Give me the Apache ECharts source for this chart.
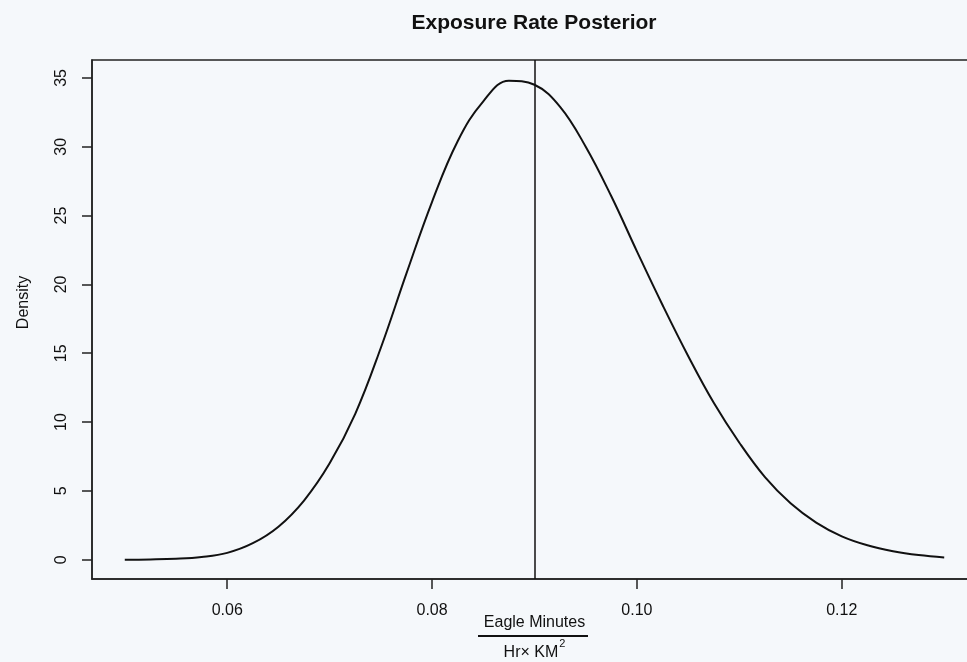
<!DOCTYPE html>
<html>
<head>
<meta charset="utf-8">
<script src="https://cdn.jsdelivr.net/npm/echarts@6/dist/echarts.min.js"></script>
<style>
  html, body { margin: 0; padding: 0; background: #f5f8fb; }
  #chart { width: 967px; height: 662px; }
</style>
</head>
<body>
<div id="chart"></div>
<script>
// exposure rate values (x) and posterior density
var rateVals = [0.0500, 0.0525, 0.0550, 0.0575, 0.0600, 0.0625, 0.0650, 0.0675, 0.0700,
    0.0725, 0.0750, 0.0775, 0.0800, 0.0825, 0.0850, 0.0875, 0.0900, 0.0925, 0.0950,
    0.0975, 0.1000, 0.1025, 0.1050, 0.1075, 0.1100, 0.1125, 0.1150, 0.1175, 0.1200,
    0.1225, 0.1250, 0.1275, 0.1300];
var densityVals = [0.00, 0.02, 0.07, 0.20, 0.50, 1.20, 2.40, 4.30, 7.00,
    10.6, 15.4, 20.8, 26.0, 30.4, 33.3, 34.8, 34.5, 32.9, 30.0,
    26.4, 22.4, 18.5, 14.8, 11.4, 8.5, 6.0, 4.1, 2.7, 1.7,
    1.05, 0.62, 0.34, 0.17];
var refLine = 0.0899;   // vertical line
var xTicks = [0.06, 0.08, 0.10, 0.12];
var yTicks = [0, 5, 10, 15, 20, 25, 30, 35];

var curve = [];
for (var i = 0; i < rateVals.length; i++) {
    curve.push([rateVals[i], densityVals[i]]);
}

var myChart = echarts.init(document.getElementById('chart'));
var font = 'Liberation Sans, Arial, sans-serif';

option = {
    backgroundColor: '#f5f8fb',
    animation: false,
    title: {
        text: 'Exposure Rate Posterior',
        left: 529,
        top: 8,
        textAlign: 'center',
        textStyle: { fontFamily: font, fontSize: 21, fontWeight: 'bold', color: '#111' }
    },
    grid: {
        left: 92,
        top: 60,
        right: -10,
        bottom: 83,
        outerBoundsMode: 'none',
        containLabel: false,
        show: true,
        borderColor: '#222',
        borderWidth: 1.5,
        backgroundColor: 'transparent'
    },
    xAxis: {
        type: 'value',
        min: 0.0468,
        max: 0.1332,
        name: '{a|Eagle Minutes}\n{b|Hr× KM}{c|2}',
        nameLocation: 'middle',
        nameGap: 29,
        nameMoveOverlap: false,
        nameTextStyle: {
            rich: {
                a: { fontFamily: font, fontSize: 16, color: '#111', lineHeight: 30 },
                b: { fontFamily: font, fontSize: 16, color: '#111', lineHeight: 30 },
                c: { fontFamily: font, fontSize: 11, color: '#111', lineHeight: 30, verticalAlign: 'top', padding: [0, 0, 8, 1] }
            }
        },
        axisLine: { show: true, onZero: false, lineStyle: { color: '#222', width: 1.5 } },
        axisTick: { show: true, length: 10, customValues: xTicks, lineStyle: { color: '#222', width: 1.5 } },
        axisLabel: {
            customValues: xTicks,
            margin: 24,
            fontFamily: font,
            fontSize: 16,
            color: '#111',
            formatter: function (v) { return v.toFixed(2); }
        },
        splitLine: { show: false }
    },
    yAxis: {
        type: 'value',
        min: -1.4,
        max: 36.3,
        name: 'Density',
        nameLocation: 'middle',
        nameGap: 60,
        nameMoveOverlap: false,
        nameTextStyle: { fontFamily: font, fontSize: 16, color: '#111', padding: [0, 0, 0, 34] },
        axisLine: { show: true, onZero: false, lineStyle: { color: '#222', width: 1.5 } },
        axisTick: { show: true, length: 10, customValues: yTicks, lineStyle: { color: '#222', width: 1.5 } },
        axisLabel: {
            customValues: yTicks,
            rotate: 90,
            margin: 22,
            fontFamily: font,
            fontSize: 16,
            color: '#111'
        },
        splitLine: { show: false }
    },
    series: [
        {
            name: 'posterior',
            type: 'line',
            data: curve,
            smooth: 0.4,
            showSymbol: false,
            lineStyle: { color: '#111', width: 2 },
            markLine: {
                silent: true,
                symbol: 'none',
                label: { show: false },
                lineStyle: { color: '#111', width: 1.5, type: 'solid' },
                data: [{ xAxis: refLine }]
            }
        }
    ],
    graphic: [
        {
            type: 'line',
            shape: { x1: 478, y1: 636, x2: 588, y2: 636 },
            style: { stroke: '#111', lineWidth: 2 }
        }
    ]
};

myChart.setOption(option);
</script>
</body>
</html>
